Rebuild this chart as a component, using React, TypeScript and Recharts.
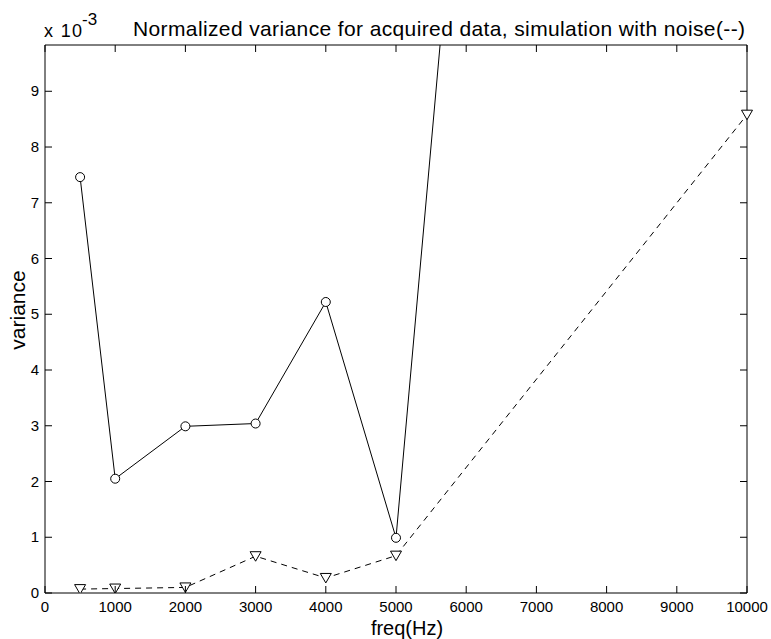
import React from 'react';
import { LineChart, Line, XAxis, YAxis } from 'recharts';

const freqs = [500, 1000, 2000, 3000, 4000, 5000, 10000];
const acquiredVariance = [7.46, 2.05, 2.99, 3.04, 5.22, 0.99, 71.4];
const simulatedVariance = [0.07, 0.08, 0.1, 0.66, 0.27, 0.67, 8.58];
const xTicks = [0, 1000, 2000, 3000, 4000, 5000, 6000, 7000, 8000, 9000, 10000];
const yTicks = [0, 1, 2, 3, 4, 5, 6, 7, 8, 9];
const yMax = 9.83;

const data = freqs.map((f, i) => ({ freq: f, acquired: acquiredVariance[i], simulated: simulatedVariance[i] }));

const FONT = '"Liberation Sans", Arial, Helvetica, sans-serif';

const BottomTick = (props: any) => {
  const { x, y, payload } = props;
  return (
    <g>
      <line x1={x} y1={y} x2={x} y2={y - 7} stroke="#000" strokeWidth={1} />
      <text x={x} y={y + 19} textAnchor="middle" fontSize={15} fontFamily={FONT} fill="#000">
        {payload.value}
      </text>
    </g>
  );
};

const TopTick = (props: any) => {
  const { x, y } = props;
  return <line x1={x} y1={y} x2={x} y2={y + 7} stroke="#000" strokeWidth={1} />;
};

const LeftTick = (props: any) => {
  const { x, y, payload } = props;
  return (
    <g>
      <line x1={x} y1={y} x2={x + 7} y2={y} stroke="#000" strokeWidth={1} />
      <text x={x - 6} y={y + 5} textAnchor="end" fontSize={15} fontFamily={FONT} fill="#000">
        {payload.value}
      </text>
    </g>
  );
};

const RightTick = (props: any) => {
  const { x, y } = props;
  return <line x1={x} y1={y} x2={x - 7} y2={y} stroke="#000" strokeWidth={1} />;
};

const TriangleDot = (props: any) => {
  const { cx, cy, index } = props;
  if (cx == null || cy == null) return <g key={`t-${index}`} />;
  const d = `M${cx - 5.5},${cy - 4.5} L${cx + 5.5},${cy - 4.5} L${cx},${cy + 5} Z`;
  return <path key={`t-${index}`} d={d} fill="#fff" stroke="#000" strokeWidth={1} />;
};

export default function App() {
  return (
    <div style={{ position: 'absolute', left: 0, top: 0, width: 771, height: 639, background: '#fff' }}>
      <LineChart
        width={771}
        height={639}
        data={data}
        margin={{ top: 0, right: 0, bottom: 0, left: 0 }}
      >
        <XAxis
          xAxisId="bottom"
          dataKey="freq"
          type="number"
          domain={[0, 10000]}
          ticks={xTicks}
          orientation="bottom"
          height={46}
          tickSize={0}
          tickMargin={0}
          tick={BottomTick}
          axisLine={{ stroke: '#000', strokeWidth: 1 }}
          tickLine={false}
          interval={0}
        />
        <XAxis
          xAxisId="top"
          dataKey="freq"
          type="number"
          domain={[0, 10000]}
          ticks={xTicks}
          orientation="top"
          height={45}
          tickSize={0}
          tickMargin={0}
          tick={TopTick}
          axisLine={{ stroke: '#000', strokeWidth: 1 }}
          tickLine={false}
          interval={0}
        />
        <YAxis
          yAxisId="left"
          type="number"
          domain={[0, yMax]}
          allowDataOverflow
          ticks={yTicks}
          orientation="left"
          width={45}
          tickSize={0}
          tickMargin={0}
          tick={LeftTick}
          axisLine={{ stroke: '#000', strokeWidth: 1 }}
          tickLine={false}
          interval={0}
        />
        <YAxis
          yAxisId="right"
          type="number"
          domain={[0, yMax]}
          allowDataOverflow
          ticks={yTicks}
          orientation="right"
          width={24}
          tickSize={0}
          tickMargin={0}
          tick={RightTick}
          axisLine={{ stroke: '#000', strokeWidth: 1 }}
          tickLine={false}
          interval={0}
        />
        <Line
          xAxisId="bottom"
          yAxisId="left"
          type="linear"
          dataKey="simulated"
          stroke="#000"
          strokeWidth={1}
          strokeDasharray="6 5"
          dot={TriangleDot}
          activeDot={false}
          isAnimationActive={false}
        />
        <Line
          xAxisId="bottom"
          yAxisId="left"
          type="linear"
          dataKey="acquired"
          stroke="#000"
          strokeWidth={1}
          dot={{ r: 4.5, fill: '#fff', stroke: '#000', strokeWidth: 1 }}
          activeDot={false}
          isAnimationActive={false}
        />
      </LineChart>
      <svg
        width={771}
        height={639}
        style={{ position: 'absolute', left: 0, top: 0, pointerEvents: 'none' }}
      >
        <text x={44} y={37} fontSize={18} fontFamily={FONT} fill="#000" textLength={38}>
          x 10
        </text>
        <text x={82} y={25} fontSize={17} fontFamily={FONT} fill="#000">
          -3
        </text>
        <text
          x={439}
          y={36}
          textAnchor="middle"
          fontSize={21}
          fontFamily={FONT}
          fill="#000"
          textLength={612}
        >
          Normalized variance for acquired data, simulation with noise(--)
        </text>
        <text
          x={25}
          y={310}
          textAnchor="middle"
          fontSize={21}
          fontFamily={FONT}
          fill="#000"
          transform="rotate(-90 25 310)"
        >
          variance
        </text>
        <text
          x={407}
          y={635}
          textAnchor="middle"
          fontSize={20}
          fontFamily={FONT}
          fill="#000"
        >
          freq(Hz)
        </text>
      </svg>
    </div>
  );
}
